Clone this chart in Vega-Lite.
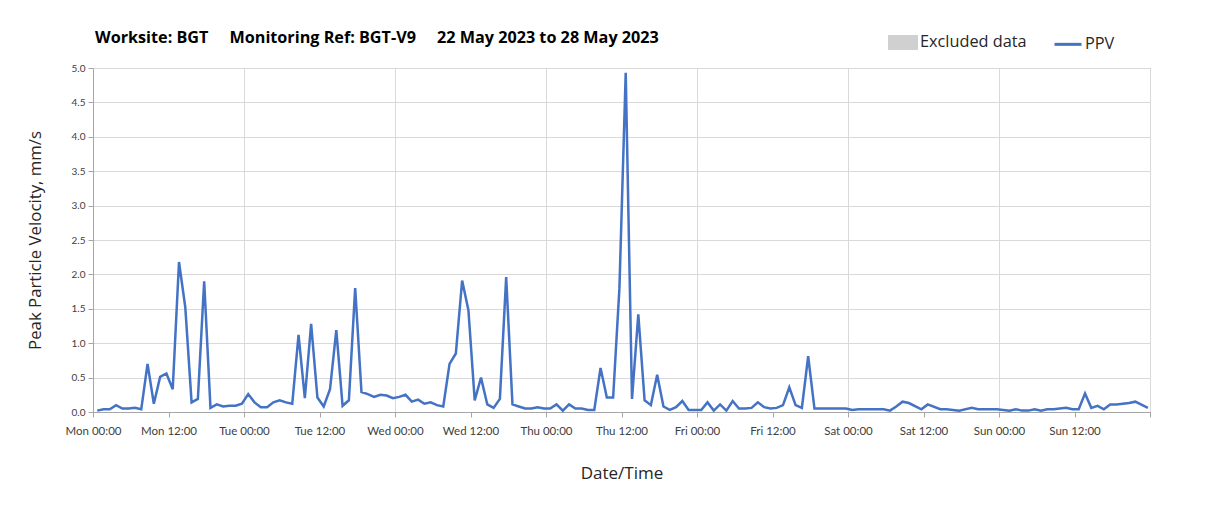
{
  "$schema": "https://vega.github.io/schema/vega-lite/v6.json",
  "width": 1057,
  "height": 344,
  "autosize": {"type": "none"},
  "padding": {"left": 93, "top": 68, "right": 58, "bottom": 98},
  "background": "white",
  "title": {
    "text": "Worksite: BGT\u00a0\u00a0\u00a0\u00a0\u00a0Monitoring Ref: BGT-V9\u00a0\u00a0\u00a0\u00a0\u00a022 May 2023 to 28 May 2023",
    "anchor": "start",
    "frame": "group",
    "font": "Open Sans",
    "fontSize": 16.2,
    "fontWeight": "bold",
    "color": "#000000",
    "offset": 20,
    "dx": 2,
    "dy": 39
  },
  "config": {
    "view": {"stroke": "#a6a6a6", "strokeWidth": 1},
    "font": "Open Sans"
  },
  "data": {
    "values": [
      {"h": 0.67, "v": 0.02}, {"h": 1.67, "v": 0.04}, {"h": 2.67, "v": 0.04}, {"h": 3.67, "v": 0.10},
      {"h": 4.67, "v": 0.05}, {"h": 5.67, "v": 0.05}, {"h": 6.67, "v": 0.06}, {"h": 7.67, "v": 0.04},
      {"h": 8.67, "v": 0.70}, {"h": 9.67, "v": 0.12}, {"h": 10.67, "v": 0.51}, {"h": 11.67, "v": 0.56},
      {"h": 12.67, "v": 0.33}, {"h": 13.67, "v": 2.18}, {"h": 14.67, "v": 1.52}, {"h": 15.67, "v": 0.14},
      {"h": 16.67, "v": 0.19}, {"h": 17.67, "v": 1.90}, {"h": 18.67, "v": 0.06}, {"h": 19.67, "v": 0.11},
      {"h": 20.67, "v": 0.08}, {"h": 21.67, "v": 0.09}, {"h": 22.67, "v": 0.09}, {"h": 23.67, "v": 0.12},
      {"h": 24.67, "v": 0.26}, {"h": 25.67, "v": 0.14}, {"h": 26.67, "v": 0.07}, {"h": 27.67, "v": 0.07},
      {"h": 28.67, "v": 0.14}, {"h": 29.67, "v": 0.17}, {"h": 30.67, "v": 0.14}, {"h": 31.67, "v": 0.12},
      {"h": 32.67, "v": 1.12}, {"h": 33.67, "v": 0.20}, {"h": 34.67, "v": 1.28}, {"h": 35.67, "v": 0.21},
      {"h": 36.67, "v": 0.08}, {"h": 37.67, "v": 0.33}, {"h": 38.67, "v": 1.19}, {"h": 39.67, "v": 0.09},
      {"h": 40.67, "v": 0.17}, {"h": 41.67, "v": 1.80}, {"h": 42.67, "v": 0.29}, {"h": 43.67, "v": 0.26},
      {"h": 44.67, "v": 0.22}, {"h": 45.67, "v": 0.25}, {"h": 46.67, "v": 0.24}, {"h": 47.67, "v": 0.20},
      {"h": 48.67, "v": 0.22}, {"h": 49.67, "v": 0.25}, {"h": 50.67, "v": 0.15}, {"h": 51.67, "v": 0.18},
      {"h": 52.67, "v": 0.12}, {"h": 53.67, "v": 0.14}, {"h": 54.67, "v": 0.10}, {"h": 55.67, "v": 0.08},
      {"h": 56.67, "v": 0.70}, {"h": 57.67, "v": 0.85}, {"h": 58.67, "v": 1.91}, {"h": 59.67, "v": 1.48},
      {"h": 60.67, "v": 0.17}, {"h": 61.67, "v": 0.50}, {"h": 62.67, "v": 0.11}, {"h": 63.67, "v": 0.06},
      {"h": 64.67, "v": 0.19}, {"h": 65.67, "v": 1.96}, {"h": 66.67, "v": 0.11}, {"h": 67.67, "v": 0.08},
      {"h": 68.67, "v": 0.05}, {"h": 69.67, "v": 0.05}, {"h": 70.67, "v": 0.07}, {"h": 71.67, "v": 0.05},
      {"h": 72.67, "v": 0.05}, {"h": 73.67, "v": 0.11}, {"h": 74.67, "v": 0.02}, {"h": 75.67, "v": 0.11},
      {"h": 76.67, "v": 0.05}, {"h": 77.67, "v": 0.05}, {"h": 78.67, "v": 0.03}, {"h": 79.67, "v": 0.03},
      {"h": 80.67, "v": 0.64}, {"h": 81.67, "v": 0.21}, {"h": 82.67, "v": 0.21}, {"h": 83.67, "v": 1.80},
      {"h": 84.67, "v": 4.93}, {"h": 85.67, "v": 0.19}, {"h": 86.67, "v": 1.42}, {"h": 87.67, "v": 0.17},
      {"h": 88.67, "v": 0.10}, {"h": 89.67, "v": 0.54}, {"h": 90.67, "v": 0.08}, {"h": 91.67, "v": 0.03},
      {"h": 92.67, "v": 0.07}, {"h": 93.67, "v": 0.16}, {"h": 94.67, "v": 0.03}, {"h": 95.67, "v": 0.03},
      {"h": 96.67, "v": 0.03}, {"h": 97.67, "v": 0.14}, {"h": 98.67, "v": 0.02}, {"h": 99.67, "v": 0.11},
      {"h": 100.67, "v": 0.02}, {"h": 101.67, "v": 0.16}, {"h": 102.67, "v": 0.05}, {"h": 103.67, "v": 0.05},
      {"h": 104.67, "v": 0.06}, {"h": 105.67, "v": 0.14}, {"h": 106.67, "v": 0.07}, {"h": 107.67, "v": 0.05},
      {"h": 108.67, "v": 0.06}, {"h": 109.67, "v": 0.10}, {"h": 110.67, "v": 0.36}, {"h": 111.67, "v": 0.10},
      {"h": 112.67, "v": 0.06}, {"h": 113.67, "v": 0.81}, {"h": 114.67, "v": 0.05}, {"h": 115.67, "v": 0.05},
      {"h": 116.67, "v": 0.05}, {"h": 117.67, "v": 0.05}, {"h": 118.67, "v": 0.05}, {"h": 119.67, "v": 0.05},
      {"h": 120.67, "v": 0.03}, {"h": 121.67, "v": 0.04}, {"h": 122.67, "v": 0.04}, {"h": 123.67, "v": 0.04},
      {"h": 124.67, "v": 0.04}, {"h": 125.67, "v": 0.04}, {"h": 126.67, "v": 0.02}, {"h": 127.67, "v": 0.08},
      {"h": 128.67, "v": 0.15}, {"h": 129.67, "v": 0.13}, {"h": 131.67, "v": 0.04}, {"h": 132.67, "v": 0.11},
      {"h": 134.67, "v": 0.04}, {"h": 135.67, "v": 0.04}, {"h": 137.67, "v": 0.02}, {"h": 139.67, "v": 0.06},
      {"h": 140.67, "v": 0.04}, {"h": 143.67, "v": 0.04}, {"h": 145.67, "v": 0.02}, {"h": 146.67, "v": 0.04},
      {"h": 147.67, "v": 0.02}, {"h": 148.67, "v": 0.02}, {"h": 149.67, "v": 0.04}, {"h": 150.67, "v": 0.02},
      {"h": 151.67, "v": 0.04}, {"h": 152.67, "v": 0.04}, {"h": 154.67, "v": 0.06}, {"h": 155.67, "v": 0.04},
      {"h": 156.67, "v": 0.04}, {"h": 157.67, "v": 0.27}, {"h": 158.67, "v": 0.06}, {"h": 159.67, "v": 0.09},
      {"h": 160.67, "v": 0.04}, {"h": 161.67, "v": 0.11}, {"h": 162.67, "v": 0.11}, {"h": 164.67, "v": 0.13},
      {"h": 165.67, "v": 0.15}, {"h": 167.67, "v": 0.06}
    ]
  },
  "encoding": {
    "y": {
      "field": "v",
      "type": "quantitative",
      "title": "Peak Particle Velocity, mm/s",
      "scale": {"domain": [0, 5], "nice": false},
      "axis": {
        "values": [0, 0.5, 1, 1.5, 2, 2.5, 3, 3.5, 4, 4.5, 5],
        "format": ".1f",
        "grid": true,
        "gridColor": "#d9d9d9",
        "domainColor": "#a6a6a6",
        "tickColor": "#a6a6a6",
        "tickSize": 5,
        "labelFont": "Lato",
        "labelFontSize": 10,
        "labelColor": "#404040",
        "labelPadding": 3,
        "titleFont": "Open Sans",
        "titleFontSize": 16.8,
        "titleFontWeight": "normal",
        "titleColor": "#262626",
        "titlePadding": 27
      }
    }
  },
  "layer": [
    {
      "mark": {"type": "line", "opacity": 0},
      "encoding": {
        "x": {
          "field": "h",
          "type": "quantitative",
          "scale": {"domain": [0, 168], "nice": false, "zero": false},
          "axis": {
            "orient": "bottom",
            "values": [0, 24, 48, 72, 96, 120, 144, 168],
            "grid": true,
            "gridColor": "#d9d9d9",
            "labels": false,
            "ticks": false,
            "domain": false,
            "title": null
          }
        }
      }
    },
    {
      "mark": {"type": "line", "strokeWidth": 2.5},
      "encoding": {
        "x": {
          "field": "h",
          "type": "quantitative",
          "title": "Date/Time",
          "scale": {"domain": [0, 168], "nice": false, "zero": false},
          "axis": {
            "orient": "bottom",
            "values": [0, 12, 24, 36, 48, 60, 72, 84, 96, 108, 120, 132, 144, 156, 168],
            "labelExpr": "datum.value >= 168 ? '' : ['Mon','Tue','Wed','Thu','Fri','Sat','Sun'][floor(datum.value / 24)] + (datum.value % 24 == 0 ? ' 00:00' : ' 12:00')",
            "labelFlush": false,
            "labelOverlap": false,
            "grid": false,
            "domainColor": "#a6a6a6",
            "tickColor": "#a6a6a6",
            "tickSize": 5,
            "labelFont": "Lato",
            "labelFontSize": 11.5,
            "labelColor": "#404040",
            "labelPadding": 8,
            "titleFont": "Open Sans",
            "titleFontSize": 17,
            "titleFontWeight": "normal",
            "titleColor": "#262626",
            "titlePadding": 29
          }
        },
        "stroke": {
          "datum": "PPV",
          "type": "nominal",
          "scale": {"domain": ["Excluded data", "PPV"], "range": ["#d0d0d0", "#4472C4"]},
          "legend": {
            "orient": "none",
            "direction": "horizontal",
            "legendX": 795,
            "legendY": -41,
            "title": null,
            "padding": 0,
            "columnPadding": 21,
            "symbolType": "stroke",
            "symbolSize": 729,
            "symbolStrokeWidth": 3,
            "labelFont": "Open Sans",
            "labelFontSize": 16.3,
            "labelColor": "#262626",
            "labelOffset": 2,
            "encode": {
              "symbols": {
                "update": {
                  "shape": {"signal": "datum.value === 'PPV' ? 'stroke' : 'M-1,-0.45H1V0.45H-1Z'"},
                  "fill": {"signal": "datum.value === 'PPV' ? 'transparent' : '#d0d0d0'"},
                  "stroke": {"signal": "datum.value === 'PPV' ? '#4472C4' : 'transparent'"},
                  "strokeWidth": {"value": 3}
                }
              }
            }
          }
        }
      }
    }
  ],
  "resolve": {"axis": {"x": "independent"}}
}
